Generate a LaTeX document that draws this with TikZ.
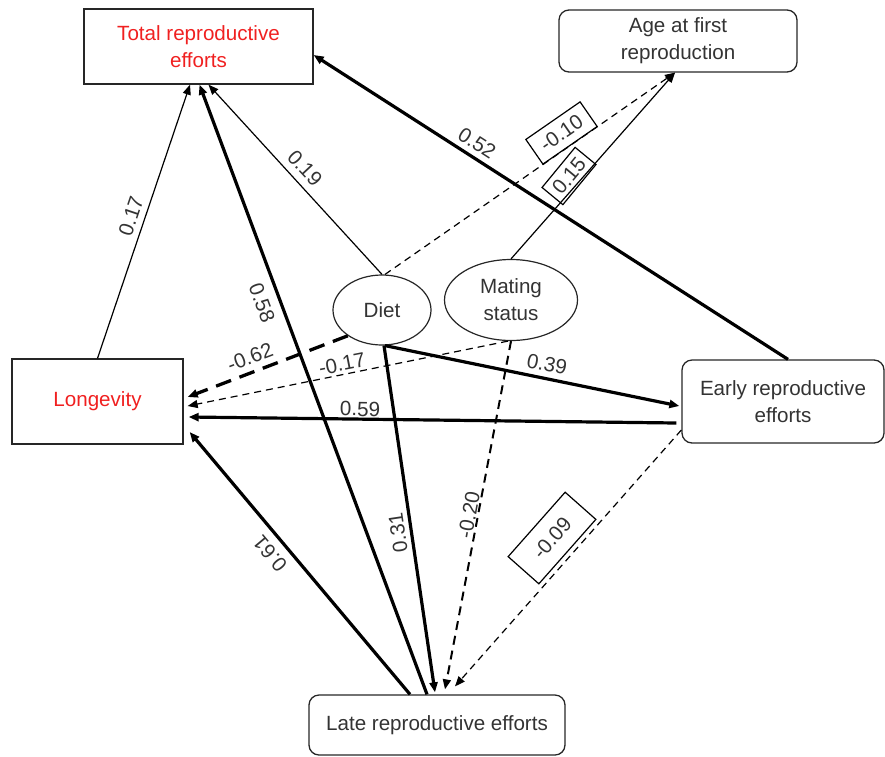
\documentclass[tikz,border=0pt]{standalone}
\usepackage{fontspec}
\setmainfont{Liberation Sans}
\usetikzlibrary{arrows.meta,calc,shapes.geometric}
\definecolor{txt}{HTML}{333333}
\definecolor{redtxt}{HTML}{F02020}
\begin{document}
\begin{tikzpicture}[x=1pt,y=-1pt,
  every node/.style={font=\fontsize{20.6}{27}\selectfont, text=txt, inner sep=0pt},
  sqbox/.style={draw=black!85, line width=1.3pt, align=center},
  rbox/.style={draw=black!85, line width=1.3pt, rounded corners=10pt, align=center},
  ell/.style={ellipse, draw=black!85, line width=1.2pt, align=center},
  lbox/.style={draw=black, line width=1.2pt},
  tipa/.style={-{Triangle[length=10pt,width=8pt]}},
  weakarr/.style={tipa, line width=1.2pt},
  strongarr/.style={tipa, line width=3.2pt},
  weakdash/.style={tipa, line width=1.2pt, dash pattern=on 7pt off 5pt},
  meddash/.style={tipa, line width=2pt, dash pattern=on 9pt off 6pt},
  strongdash/.style={tipa, line width=3.3pt, dash pattern=on 16pt off 9pt}
]
\useasboundingbox (0,0) rectangle (885,756);

% nodes
\node[sqbox, minimum width=229pt, minimum height=75pt, text=redtxt] (tot) at (198.5,46.5) {Total reproductive\\efforts};
\node[rbox, minimum width=238pt, minimum height=62pt] (age) at (678,41) {Age at first\\reproduction};
\node[sqbox, minimum width=171pt, minimum height=85pt, text=redtxt] (lon) at (97.5,401.5) {Longevity};
\node[rbox, minimum width=202pt, minimum height=83pt] (early) at (783,401.5) {Early reproductive\\efforts};
\node[rbox, minimum width=256pt, minimum height=60pt] (late) at (437,725) {Late reproductive efforts};
\node[ell, minimum width=98pt, minimum height=70pt] (diet) at (382,310) {Diet};
\node[ell, minimum width=133pt, minimum height=81pt] (mat) at (511,300) {Mating\\status};

% connectors
\draw[weakarr] (lon.north) -- ($(tot.south)+(-8.5,0)$);
\draw[strongarr] ($(late.north)+(-10,0)$) -- ($(tot.south)+(1,0)$);
\draw[weakarr] (diet.north) -- ($(tot.south)+(10,0)$);
\draw[strongarr] ($(early.north)+(5,0)$) -- ($(tot.east)+(0,8.5)$);
\draw[weakdash] ($(diet.north)+(3,0)$) -- ($(age.south)+(-3,0)$);
\draw[weakarr] (mat.north) -- ($(age.south)+(-3,0)$);
\draw[strongdash] (diet.217) -- ($(lon.east)+(4,-4.5)$);
\draw[weakdash] ($(mat.south)+(-3,0)$) -- ($(lon.east)+(4,4.5)$);
\draw[strongarr] ($(early.west)+(-5,21.5)$) -- ($(lon.east)+(5,15.5)$);
\draw[strongarr] ($(diet.south)+(3,0)$) -- ($(early.west)+(-2,4.5)$);
\draw[strongarr] ($(diet.south)+(2,0)$) -- ($(late.north)+(-2,-2)$);
\draw[strongarr] ($(late.north)+(-27,0)$) -- ($(lon.east)+(6,30.5)$);
\draw[meddash] (mat.south) -- ($(late.north)+(8,-5)$);
\draw[weakdash] ($(early.west)+(0,28.5)$) -- ($(late.north)+(18,-8)$);

% labels
\node[rotate=71.4] (l1) at (131,216) {0.17};
\node[rotate=-69.6] (l2) at (262,303) {0.58};
\node[rotate=-46.9] (l3) at (305,168) {0.19};
\node[rotate=-32.7] (l4) at (477,143) {0.52};
\node[lbox, rotate=34.7, minimum width=66pt, minimum height=30pt] (l5) at (561.5,133) {-0.10};
\node[lbox, rotate=50.5, minimum width=52pt, minimum height=27pt] (l6) at (569,176) {0.15};
\node[rotate=20.9] (l7) at (250,357) {-0.62};
\node[rotate=11.1] (l8) at (342,364) {-0.17};
\node[rotate=-0.7] (l9) at (360,409) {0.59};
\node[rotate=-11.3] (l10) at (547,364) {0.39};
\node[rotate=98.4] (l11) at (398,533) {0.31};
\node[rotate=130] (l12) at (270,554) {0.61};
\node[rotate=79.5] (l13) at (469,515) {-0.20};
\node[lbox, rotate=48.5, minimum width=86pt, minimum height=41pt] (l14) at (552,538) {-0.09};
\end{tikzpicture}
\end{document}
